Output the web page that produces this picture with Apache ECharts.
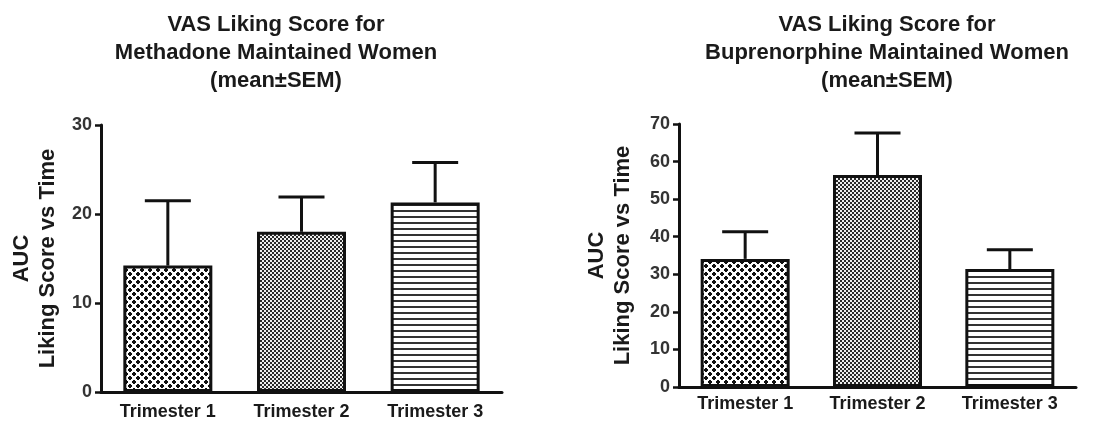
<!DOCTYPE html>
<html>
<head>
<meta charset="utf-8">
<script src="https://cdn.jsdelivr.net/npm/echarts@6/dist/echarts.min.js"></script>
<style>
html,body{margin:0;padding:0;background:#fff;}
#chart{width:1094px;height:423px;}
</style>
</head>
<body>
<div id="chart"></div>
<script>
// ---- data ----
const categories = ['Trimester 1', 'Trimester 2', 'Trimester 3'];
const methadoneMean = [14.2, 18.0, 21.3];
const methadoneSem = [7.3, 3.9, 4.5];
const buprenorphineMean = [34.1, 56.4, 31.4];
const buprenorphineSem = [7.2, 11.2, 5.1];
const methadoneTicks = [0, 10, 20, 30];
const buprenorphineTicks = [0, 10, 20, 30, 40, 50, 60, 70];
const leftTitle = 'VAS Liking Score for\nMethadone Maintained Women\n(mean\u00b1SEM)';
const rightTitle = 'VAS Liking Score for\nBuprenorphine Maintained Women\n(mean\u00b1SEM)';
const yName = 'AUC\nLiking Score vs Time';

// ---- patterns ----
function makePattern(type) {
  const c = document.createElement('canvas');
  const ctx = c.getContext('2d');
  if (type === 0) {
    c.width = 8; c.height = 8;
    ctx.fillStyle = '#fff'; ctx.fillRect(0, 0, 8, 8);
    ctx.fillStyle = '#111';
    ctx.fillRect(0, 0, 4, 4);
    ctx.fillRect(4, 4, 4, 4);
    ctx.fillStyle = '#fff';
    ctx.fillRect(0, 0, 1, 1); ctx.fillRect(3, 0, 1, 1); ctx.fillRect(0, 3, 1, 1); ctx.fillRect(3, 3, 1, 1);
    ctx.fillRect(4, 4, 1, 1); ctx.fillRect(7, 4, 1, 1); ctx.fillRect(4, 7, 1, 1); ctx.fillRect(7, 7, 1, 1);
  } else if (type === 1) {
    c.width = 4; c.height = 4;
    ctx.fillStyle = '#eee'; ctx.fillRect(0, 0, 4, 4);
    ctx.fillStyle = '#2a2a2a';
    ctx.fillRect(0, 0, 2, 2);
    ctx.fillRect(2, 2, 2, 2);
  } else {
    c.width = 4; c.height = 6;
    ctx.fillStyle = '#fff'; ctx.fillRect(0, 0, 4, 6);
    ctx.fillStyle = '#333';
    ctx.fillRect(0, 0, 4, 2);
  }
  return { image: c, repeat: 'repeat' };
}
const patterns = [makePattern(0), makePattern(1), makePattern(2)];

const FONT = 'Liberation Sans, Arial, sans-serif';
const TXT = '#1a1a1a';

function errorSeries(gridIdx, means, sems) {
  return {
    type: 'custom',
    xAxisIndex: gridIdx, yAxisIndex: gridIdx,
    z: 5,
    data: means.map((m, i) => [i, m, sems[i]]),
    renderItem: function (params, api) {
      const i = api.value(0), m = api.value(1), s = api.value(2);
      const p0 = api.coord([i, m]);
      const p1 = api.coord([i, m + s]);
      const half = 23;
      const st = { stroke: '#111', lineWidth: 3 };
      return {
        type: 'group',
        children: [
          { type: 'line', shape: { x1: p0[0], y1: p0[1], x2: p1[0], y2: p1[1] }, style: st },
          { type: 'line', shape: { x1: p1[0] - half, y1: p1[1], x2: p1[0] + half, y2: p1[1] }, style: st }
        ]
      };
    }
  };
}

function barSeries(gridIdx, means) {
  return {
    type: 'bar',
    xAxisIndex: gridIdx, yAxisIndex: gridIdx,
    barWidth: 89,
    z: 3,
    data: means.map((v, i) => ({
      value: v,
      itemStyle: { color: patterns[i], borderColor: '#111', borderWidth: 3 }
    }))
  };
}

function xAxis(gridIdx, margin) {
  return {
    type: 'category', gridIndex: gridIdx, data: categories,
    axisLine: { lineStyle: { color: '#111', width: 3 } },
    axisTick: { alignWithLabel: true, length: 6, lineStyle: { color: '#111', width: 2.5 } },
    axisLabel: { color: TXT, fontFamily: FONT, fontWeight: 'bold', fontSize: 18, margin: margin }
  };
}

function yAxis(gridIdx, ticks, gap) {
  return {
    type: 'value', gridIndex: gridIdx,
    min: ticks[0], max: ticks[ticks.length - 1], interval: ticks[1] - ticks[0],
    name: yName, nameLocation: 'middle', nameGap: gap,
    nameTextStyle: { color: TXT, fontFamily: FONT, fontWeight: 'bold', fontSize: 22, lineHeight: 26 },
    axisLine: { show: true, lineStyle: { color: '#111', width: 3 } },
    axisTick: { show: true, length: 6, lineStyle: { color: '#111', width: 2.5 } },
    axisLabel: { color: '#333', fontFamily: FONT, fontWeight: 'bold', fontSize: 18, margin: 9 },
    splitLine: { show: false }
  };
}

const chart = echarts.init(document.getElementById('chart'));
chart.setOption({
  animation: false,
  backgroundColor: '#fff',
  title: [
    { text: leftTitle, left: 271, top: 6, textAlign: 'center',
      textStyle: { color: TXT, fontFamily: FONT, fontWeight: 'bold', fontSize: 22, lineHeight: 28 } },
    { text: rightTitle, left: 882, top: 6, textAlign: 'center',
      textStyle: { color: TXT, fontFamily: FONT, fontWeight: 'bold', fontSize: 22, lineHeight: 28 } }
  ],
  grid: [
    { left: 101, top: 125, width: 401, height: 267 },
    { left: 679, top: 124, width: 397, height: 263 }
  ],
  xAxis: [xAxis(0, 11), xAxis(1, 8)],
  yAxis: [yAxis(0, methadoneTicks, 40), yAxis(1, buprenorphineTicks, 43)],
  series: [
    barSeries(0, methadoneMean), errorSeries(0, methadoneMean, methadoneSem),
    barSeries(1, buprenorphineMean), errorSeries(1, buprenorphineMean, buprenorphineSem)
  ]
});
</script>
</body>
</html>
